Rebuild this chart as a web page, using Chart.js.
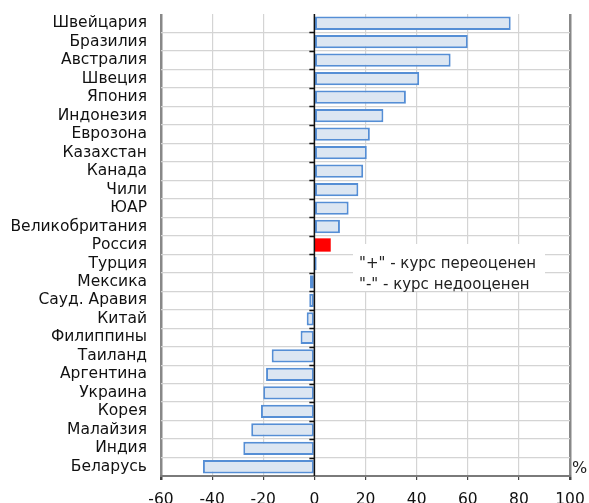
<!DOCTYPE html>
<html>
<head>
<meta charset="utf-8">
<script src="https://cdn.jsdelivr.net/npm/chart.js@4/dist/chart.umd.min.js"></script>
<style>
  html, body { margin: 0; padding: 0; background: #fff; }
  #wrap { width: 589px; height: 503px; position: relative; }
</style>
</head>
<body>
<div id="wrap"><canvas id="chart"></canvas></div>
<script>
const countries = ['Швейцария', 'Бразилия', 'Австралия', 'Швеция', 'Япония', 'Индонезия', 'Еврозона',
  'Казахстан', 'Канада', 'Чили', 'ЮАР', 'Великобритания', 'Россия', 'Турция', 'Мексика',
  'Сауд. Аравия', 'Китай', 'Филиппины', 'Таиланд', 'Аргентина', 'Украина', 'Корея',
  'Малайзия', 'Индия', 'Беларусь']
const deviation = [76.8, 60.0, 53.3, 41.0, 35.8, 27.0, 21.7, 20.5, 19.1, 17.2, 13.4, 10.0, 6.4, 0.9,
  -1.7, -2.0, -3.0, -5.4, -16.7, -18.9, -20.0, -20.9, -24.7, -27.8, -43.6]
const xTicks = [-60, -40, -20, 0, 20, 40, 60, 80, 100]
const noteLines = ['"+" - курс переоценен', '"-" - курс недооценен']
const highlight = 'Россия'

const FONT = 'DejaVu Sans'

// small ticks on the zero line, note box and % sign
const extras = {
  id: 'extras',
  afterDatasetsDraw(chart) {
    const { ctx, chartArea: a, scales: { x } } = chart
    const x0 = x.getPixelForValue(0)
    const step = (a.bottom - a.top) / countries.length
    ctx.save()
    ctx.strokeStyle = '#111'
    ctx.lineWidth = 1.5
    for (let i = 1; i < countries.length; i++) {
      const py = Math.round(a.top + i * step) + 0.5
      ctx.beginPath()
      ctx.moveTo(x0 - 5, py)
      ctx.lineTo(x0, py)
      ctx.stroke()
    }
    ctx.beginPath()
    ctx.moveTo(x0, a.top)
    ctx.lineTo(x0, a.bottom)
    ctx.stroke()

    // note box
    ctx.fillStyle = '#fff'
    ctx.fillRect(353, 244, 192, 47)
    ctx.fillStyle = '#222'
    ctx.font = `15px ${FONT}`
    ctx.textBaseline = 'middle'
    ctx.textAlign = 'left'
    ctx.fillText(noteLines[0], 359, 264)
    ctx.fillText(noteLines[1], 359, 285)

    ctx.font = `16px ${FONT}`
    ctx.fillText('%', 572, 469)
    ctx.restore()
  }
}

new Chart(document.getElementById('chart'), {
  type: 'bar',
  data: {
    labels: countries,
    datasets: [{
      data: deviation,
      backgroundColor: (c) => countries[c.dataIndex] === highlight ? '#ff0000' : '#dce6f2',
      borderColor: '#558ed5',
      borderWidth: (c) => countries[c.dataIndex] === highlight ? 0 : 2,
      borderSkipped: false,
      barPercentage: 0.72,
      categoryPercentage: 1,
    }]
  },
  options: {
    indexAxis: 'y',
    responsive: true,
    maintainAspectRatio: false,
    animation: false,
    layout: { padding: { top: 14, right: 19, left: 0, bottom: 0 } },
    plugins: {
      legend: { display: false },
      tooltip: { enabled: false }
    },
    scales: {
      x: {
        min: -60,
        max: 100,
        afterBuildTicks: (s) => { s.ticks = xTicks.map(v => ({ value: v })) },
        afterFit: (s) => { s.height = 27; s.paddingLeft = 0; s.paddingRight = 0 },
        border: { display: true, color: '#7a7a7a', width: 2 },
        grid: {
          color: (c) => (c.tick.value === -60 || c.tick.value === 100) ? '#888' : '#d4d4d4',
          lineWidth: (c) => (c.tick.value === -60 || c.tick.value === 100) ? 2.5 : 1.2,
          tickColor: '#444',
          tickLength: 4,
        },
        ticks: {
          color: '#111',
          padding: 11,
          maxRotation: 0,
          font: { family: FONT, size: 15.5 },
        }
      },
      y: {
        afterFit: (s) => { s.width = 161; s.paddingTop = 0; s.paddingBottom = 0 },
        border: { display: false },
        grid: {
          color: (c) => c.index === 0 ? 'rgba(0,0,0,0)' : '#d4d4d4',
          lineWidth: 1.2,
          drawTicks: false,
        },
        ticks: {
          color: '#111',
          padding: 14,
          autoSkip: false,
          font: { family: FONT, size: 15.5 },
        }
      }
    }
  },
  plugins: [extras]
})
</script>
</body>
</html>
